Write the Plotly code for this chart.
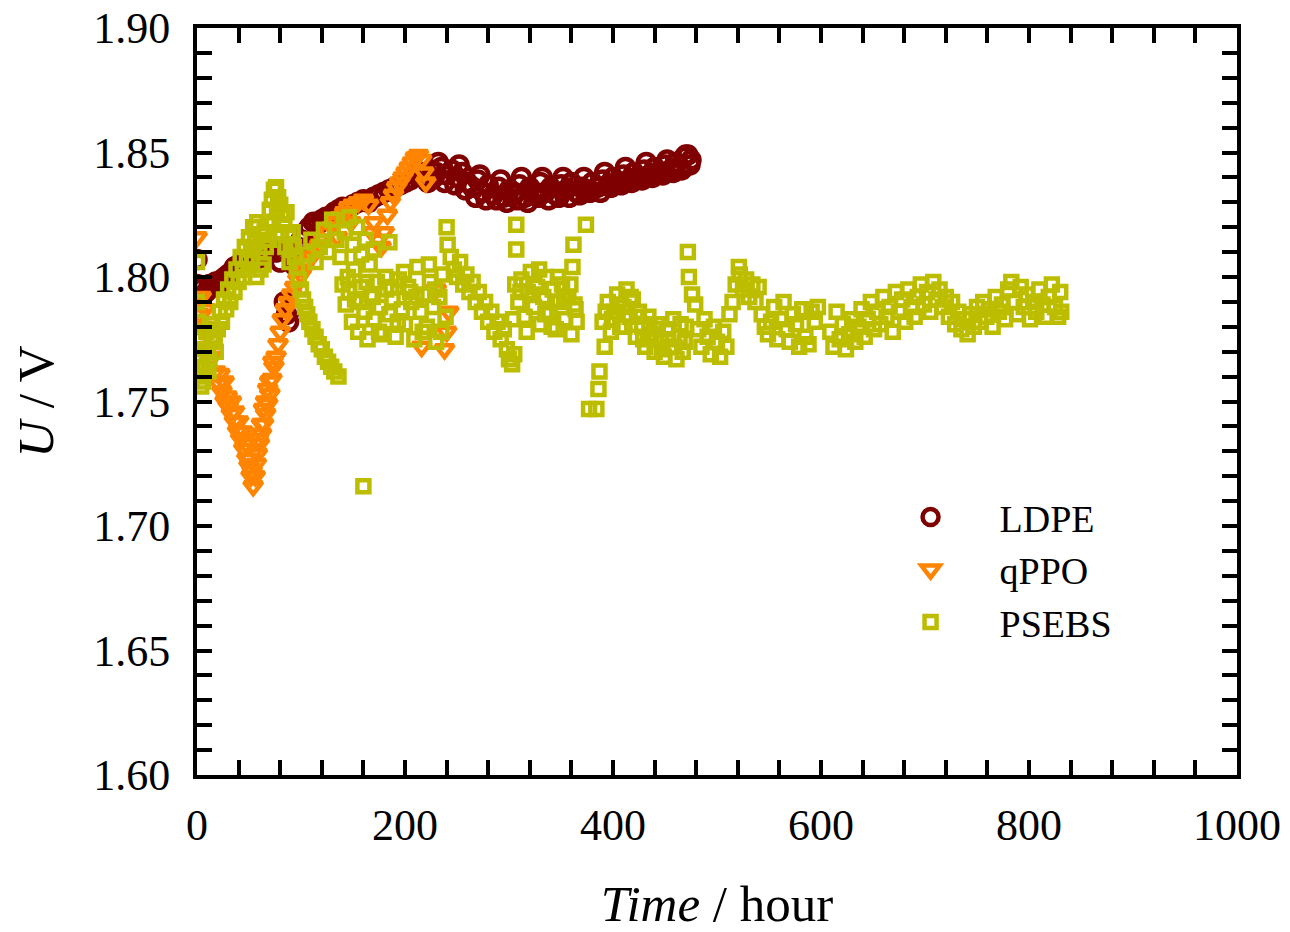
import plotly.graph_objects as go

# ---- Cell voltage U (V) versus operating time (hour) for three membranes ----

ldpe_hours = [0, 0, 3, 6, 9, 12, 15, 18, 21, 24, 27, 30, 33, 36, 40, 44, 48, 52, 56, 60,
              64, 68, 72, 76, 80, 84, 86, 88, 90, 93, 96, 100, 104, 108, 112, 116, 120, 124, 128, 132,
              136, 140, 145, 150, 155, 160, 165, 170, 175, 180, 185, 190, 195, 200, 205, 210, 215, 220, 225, 230,
              235, 240, 245, 250, 255, 260, 265, 270, 275, 280, 285, 290, 295, 300, 305, 310, 315, 320, 325, 330,
              335, 340, 345, 350, 355, 360, 365, 370, 375, 380, 385, 390, 395, 400, 405, 410, 415, 420, 425, 430,
              435, 440, 445, 450, 455, 460, 465, 468, 472, 475, 474,
              222, 228, 238, 248, 258, 268, 278, 288, 298, 308, 318, 328, 338, 348, 358, 368, 378, 388, 398, 408,
              418, 428, 438, 448, 458, 466,
              232, 252, 272, 292, 312, 332, 352, 372, 392, 412, 432, 452, 470]
ldpe_u = [1.807, 1.797, 1.795, 1.796, 1.794, 1.797, 1.796, 1.798, 1.797, 1.799, 1.800, 1.801, 1.802, 1.804, 1.805, 1.806, 1.806, 1.808, 1.807, 1.809,
          1.808, 1.810, 1.811, 1.810, 1.806, 1.790, 1.785, 1.782, 1.787, 1.805, 1.812, 1.815, 1.818, 1.820, 1.822, 1.821, 1.823, 1.824, 1.824, 1.826,
          1.827, 1.828, 1.827, 1.829, 1.830, 1.831, 1.830, 1.832, 1.833, 1.834, 1.835, 1.836, 1.837, 1.838, 1.839, 1.841, 1.842, 1.840, 1.843, 1.842,
          1.844, 1.841, 1.843, 1.840, 1.842, 1.838, 1.836, 1.839, 1.834, 1.837, 1.833, 1.836, 1.832, 1.835, 1.833, 1.837, 1.832, 1.836, 1.833, 1.838,
          1.834, 1.836, 1.833, 1.837, 1.835, 1.838, 1.834, 1.836, 1.835, 1.838, 1.836, 1.839, 1.837, 1.840, 1.838, 1.841, 1.839, 1.842, 1.840, 1.843,
          1.841, 1.844, 1.842, 1.845, 1.843, 1.846, 1.844, 1.848, 1.849, 1.847, 1.845,
          1.838, 1.840, 1.838, 1.837, 1.835, 1.832, 1.831, 1.831, 1.830, 1.831, 1.830, 1.832, 1.831, 1.832, 1.832, 1.833, 1.834, 1.834, 1.836, 1.837,
          1.838, 1.839, 1.840, 1.841, 1.842, 1.843,
          1.846, 1.845, 1.841, 1.839, 1.840, 1.840, 1.840, 1.840, 1.842, 1.844, 1.846, 1.847, 1.849]

qppo_hours = [0, 0, 2, 4, 5, 8, 10, 12, 15, 18, 21, 24, 27, 30, 33, 36, 39, 42, 45, 48,
              50, 52, 54, 56, 57, 58, 60, 62, 64, 66, 68, 70, 72, 74, 76, 78, 80, 82, 85, 88,
              91, 94, 97, 100, 103, 106, 110, 114, 118, 122, 126, 130, 134, 138, 142, 146, 150, 155, 160, 165,
              170, 174, 177, 180, 183, 186, 189, 192, 195, 198, 201, 204, 207, 210, 213, 216, 218, 220, 216, 238,
              240, 242, 230, 26, 33, 44, 51, 64, 68,
              22, 29, 36, 40, 47, 53, 59, 62, 66, 70, 73, 135, 148, 168]
qppo_u = [1.816, 1.790, 1.785, 1.792, 1.780, 1.787, 1.777, 1.772, 1.768, 1.762, 1.757, 1.754, 1.750, 1.748, 1.745, 1.742, 1.738, 1.735, 1.731, 1.727,
          1.724, 1.720, 1.716, 1.720, 1.725, 1.729, 1.733, 1.737, 1.741, 1.745, 1.749, 1.753, 1.759, 1.764, 1.768, 1.773, 1.778, 1.783, 1.787, 1.790,
          1.793, 1.796, 1.799, 1.801, 1.803, 1.806, 1.808, 1.811, 1.813, 1.815, 1.818, 1.820, 1.822, 1.824, 1.826, 1.828, 1.829, 1.830, 1.831, 1.829,
          1.822, 1.815, 1.812, 1.818, 1.825, 1.830, 1.833, 1.836, 1.838, 1.840, 1.842, 1.844, 1.846, 1.848, 1.849, 1.847, 1.842, 1.838, 1.772, 1.771,
          1.778, 1.786, 1.795, 1.758, 1.750, 1.738, 1.727, 1.747, 1.755,
          1.761, 1.752, 1.746, 1.742, 1.733, 1.722, 1.735, 1.741, 1.750, 1.758, 1.766, 1.816, 1.822, 1.818]

psebs_hours = [0, 0, 1, 2, 1, 3, 4, 6, 7, 8, 9, 10, 11, 12, 14, 15, 17, 18, 20, 22,
               24, 26, 28, 30, 32, 34, 36, 38, 40, 42, 44, 46, 48, 50, 52, 54, 56, 58, 60, 62,
               64, 66, 68, 70, 72, 74, 76, 78, 80, 82, 84, 86, 88, 90, 92, 94, 96, 98, 100, 102,
               104, 106, 108, 111, 114, 117, 120, 123, 126, 129, 132, 136,
               45, 53, 57, 61, 65, 69, 73, 77, 81, 85, 89, 93,
               106, 110, 114, 118, 122, 126, 130, 134, 138, 142, 146, 150, 154, 158, 162, 166, 170,
               160,
               140, 143, 146, 149, 152, 155, 158, 161, 164, 167, 170, 173, 176, 179, 182, 185, 185, 188, 191, 194,
               197, 200, 203, 206, 209, 212, 215, 218, 221, 224, 227, 230, 233, 236, 239,
               145, 151, 157, 163, 169, 175, 181, 187, 193, 199, 205, 211, 217, 223, 229, 235,
               240, 241, 244, 247, 250, 253, 256, 259, 262, 265, 268, 271, 274, 277, 280, 283, 286, 289, 292, 295,
               298, 300, 303, 305,
               307, 307, 306, 309, 312, 315, 318, 321, 324, 327, 330, 333, 336, 339, 342, 345, 348, 351, 354, 357,
               360, 361, 362, 363, 365, 374,
               304, 311, 317, 323, 329, 335, 341, 347, 353, 359, 364,
               377, 384, 386, 387,
               390, 392, 395, 398, 401, 404, 407, 410, 413, 416, 419, 422, 425, 428, 431, 434, 437, 440, 443, 446,
               449, 452, 455, 458, 461, 464, 467, 470, 472, 473, 476, 479, 482, 485, 488, 491, 494, 497, 500, 503,
               506, 509, 512, 515, 518, 521, 522, 525, 528, 531, 534, 537, 540, 543, 546, 549, 552, 555, 558, 561,
               564, 567, 570, 573, 576, 579, 582, 585, 588, 591, 594, 597,
               393, 399, 405, 411, 417, 423, 429, 435, 441, 447, 453, 459, 465, 469,
               609, 612, 615, 618, 621, 624, 627, 630, 633, 636, 639, 642, 645, 648, 651, 654, 657, 660, 663, 666,
               669, 672, 675, 678, 681, 684, 687, 690, 693, 696, 699, 702, 705, 708, 711, 714, 717, 720, 723, 726,
               729, 732, 735, 738, 741, 744, 747, 750, 753, 756, 759, 762, 765, 768, 771, 774, 777, 780, 783, 786,
               789, 792, 795, 798, 801, 804, 807, 810, 813, 816, 819, 822, 825, 828, 830, 831]
psebs_u = [1.806, 1.790, 1.782, 1.775, 1.768, 1.760, 1.756, 1.758, 1.764, 1.771, 1.778, 1.770, 1.762, 1.767, 1.774, 1.781, 1.776, 1.770, 1.779, 1.786,
           1.782, 1.791, 1.787, 1.795, 1.790, 1.799, 1.794, 1.803, 1.798, 1.808, 1.803, 1.812, 1.807, 1.816, 1.811, 1.820, 1.814, 1.822, 1.810, 1.817,
           1.805, 1.812, 1.822, 1.827, 1.831, 1.835, 1.836, 1.832, 1.829, 1.825, 1.821, 1.826, 1.817, 1.813, 1.818, 1.808, 1.804, 1.799, 1.795, 1.791,
           1.788, 1.785, 1.782, 1.779, 1.776, 1.773, 1.771, 1.768, 1.766, 1.764, 1.762, 1.760,
           1.800, 1.806, 1.800, 1.803, 1.818, 1.815, 1.822, 1.826, 1.818, 1.812, 1.806, 1.812,
           1.809, 1.815, 1.806, 1.812, 1.819, 1.810, 1.823, 1.815, 1.808, 1.818, 1.824, 1.813, 1.820, 1.809, 1.815, 1.805, 1.811,
           1.716,
           1.797, 1.789, 1.794, 1.782, 1.791, 1.778, 1.796, 1.786, 1.775, 1.793, 1.783, 1.798, 1.788, 1.777, 1.795, 1.814, 1.785, 1.791, 1.776, 1.799,
           1.787, 1.781, 1.796, 1.790, 1.775, 1.804, 1.786, 1.793, 1.780, 1.798, 1.788, 1.774, 1.792, 1.801, 1.784,
           1.800, 1.803, 1.790, 1.798, 1.792, 1.778, 1.800, 1.796, 1.782, 1.802, 1.794, 1.792, 1.778, 1.805, 1.795, 1.778,
           1.820, 1.813, 1.808, 1.803, 1.800, 1.806, 1.797, 1.801, 1.794, 1.798, 1.790, 1.794, 1.786, 1.790, 1.782, 1.786, 1.778, 1.782, 1.775, 1.779,
           1.771, 1.767, 1.765, 1.769,
           1.821, 1.811, 1.797, 1.790, 1.799, 1.784, 1.794, 1.802, 1.788, 1.796, 1.781, 1.792, 1.800, 1.786, 1.795, 1.779, 1.790, 1.797, 1.783, 1.792,
           1.777, 1.804, 1.813, 1.789, 1.782, 1.821,
           1.783, 1.794, 1.778, 1.793, 1.803, 1.785, 1.780, 1.800, 1.791, 1.797, 1.787,
           1.747, 1.747, 1.755, 1.762,
           1.782, 1.772, 1.790, 1.778, 1.786, 1.793, 1.780, 1.788, 1.795, 1.784, 1.791, 1.776, 1.786, 1.780, 1.772, 1.784, 1.777, 1.770, 1.781, 1.775,
           1.768, 1.779, 1.772, 1.783, 1.767, 1.776, 1.770, 1.780, 1.810, 1.800, 1.793, 1.789, 1.779, 1.772, 1.783, 1.776, 1.769, 1.780, 1.774, 1.768,
           1.778, 1.772, 1.785, 1.790, 1.797, 1.804, 1.801, 1.795, 1.799, 1.792, 1.797, 1.790, 1.796, 1.785, 1.780, 1.777, 1.782, 1.788, 1.775, 1.783,
           1.790, 1.779, 1.774, 1.785, 1.781, 1.772, 1.787, 1.776, 1.773, 1.786, 1.782, 1.788,
           1.786, 1.783, 1.789, 1.780, 1.792, 1.784, 1.775, 1.781, 1.779, 1.771, 1.775, 1.772, 1.781, 1.774,
           1.778, 1.772, 1.786, 1.775, 1.781, 1.771, 1.777, 1.783, 1.774, 1.780, 1.787, 1.776, 1.783, 1.790, 1.779, 1.786, 1.781, 1.792, 1.784, 1.788,
           1.778, 1.794, 1.786, 1.791, 1.782, 1.795, 1.788, 1.784, 1.792, 1.797, 1.789, 1.794, 1.786, 1.798, 1.791, 1.795, 1.788, 1.792, 1.784, 1.790,
           1.781, 1.786, 1.779, 1.783, 1.777, 1.785, 1.780, 1.788, 1.782, 1.790, 1.784, 1.787, 1.780, 1.792, 1.786, 1.789, 1.783, 1.795, 1.798, 1.790,
           1.785, 1.796, 1.788, 1.793, 1.783, 1.790, 1.786, 1.795, 1.789, 1.784, 1.792, 1.797, 1.788, 1.784, 1.794, 1.786]

# name, hours, voltage, symbol, colour, marker size
series = [
    ("LDPE", ldpe_hours, ldpe_u, "circle-open", "#7f0000", 17),
    ("qPPO", qppo_hours, qppo_u, "triangle-down-open", "#ff8400", 16),
    ("PSEBS", psebs_hours, psebs_u, "square-open", "#bdbd00", 12),
]

FONT = "Liberation Serif"

fig = go.Figure()
for name, xs, ys, symbol, color, size in series:
    fig.add_trace(go.Scatter(
        x=xs, y=ys, mode="markers", name=name,
        marker=dict(symbol=symbol, size=size, color=color,
                    line=dict(width=4.5, color=color)),
    ))

axis_common = dict(
    showline=True, linewidth=4, linecolor="black", mirror="ticks",
    ticks="inside", ticklen=15, tickwidth=3.5, tickcolor="black",
    showgrid=False, zeroline=False, automargin=False,
    tickfont=dict(family=FONT, size=44, color="black"),
)

fig.update_layout(
    width=1290, height=932,
    margin=dict(l=197, r=53, t=28, b=157),
    paper_bgcolor="white", plot_bgcolor="white",
    font=dict(family=FONT, color="black"),
    xaxis=dict(range=[0, 1000], dtick=200, tick0=0,
               minor=dict(dtick=40, ticks="inside", ticklen=15, tickwidth=3.5, tickcolor="black"),
               ticklabelstandoff=8,
               title=dict(text="<i>Time</i> / hour", font=dict(family=FONT, size=51), standoff=40),
               **axis_common),
    yaxis=dict(range=[1.60, 1.90], dtick=0.05, tick0=1.60, tickformat=".2f",
               minor=dict(dtick=0.01, ticks="inside", ticklen=15, tickwidth=3.5, tickcolor="black"),
               ticklabelstandoff=14,
               title=dict(text="<i>U</i> / V", font=dict(family=FONT, size=51), standoff=24),
               **axis_common),
    legend=dict(x=0.639, y=0.387, xanchor="left", yanchor="top",
                font=dict(family=FONT, size=38, color="black"),
                itemwidth=128, bgcolor="rgba(0,0,0,0)", tracegroupgap=0),
    showlegend=True,
)

fig.write_html("out.html")
